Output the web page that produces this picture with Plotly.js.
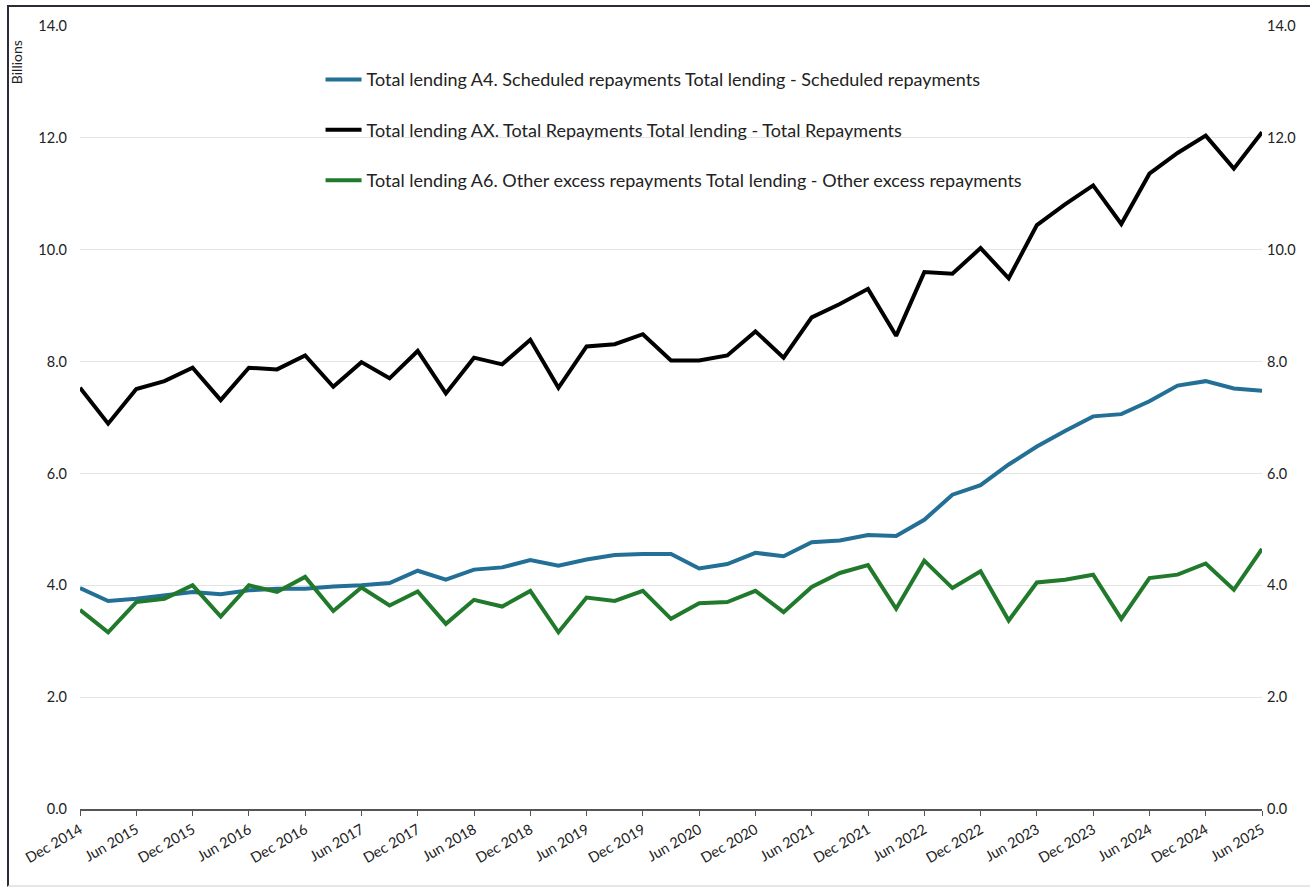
<!DOCTYPE html>
<html>
<head>
<meta charset="utf-8">
<script src="https://cdn.plot.ly/plotly-3.0.1.min.js"></script>
<style>
  html, body { margin: 0; padding: 0; background: #fff; }
  #frame { position: absolute; left: 7px; top: 5px; width: 1320px; height: 878px;
           border-left: 2px solid #2b2b3a; border-top: 2px solid #2b2b3a; border-bottom: 2px solid #e6e6e6; }
  #chart { position: absolute; left: 0; top: 0; width: 1310px; height: 889px; }
</style>
</head>
<body>
<div id="frame"></div>
<div id="chart"></div>
<script>
const quarters = [
  "Dec 2014","Mar 2015","Jun 2015","Sep 2015","Dec 2015","Mar 2016","Jun 2016","Sep 2016",
  "Dec 2016","Mar 2017","Jun 2017","Sep 2017","Dec 2017","Mar 2018","Jun 2018","Sep 2018",
  "Dec 2018","Mar 2019","Jun 2019","Sep 2019","Dec 2019","Mar 2020","Jun 2020","Sep 2020",
  "Dec 2020","Mar 2021","Jun 2021","Sep 2021","Dec 2021","Mar 2022","Jun 2022","Sep 2022",
  "Dec 2022","Mar 2023","Jun 2023","Sep 2023","Dec 2023","Mar 2024","Jun 2024","Sep 2024",
  "Dec 2024","Mar 2025","Jun 2025"
];
const tickLabels = [
  "Dec 2014","Jun 2015","Dec 2015","Jun 2016","Dec 2016","Jun 2017","Dec 2017","Jun 2018",
  "Dec 2018","Jun 2019","Dec 2019","Jun 2020","Dec 2020","Jun 2021","Dec 2021","Jun 2022",
  "Dec 2022","Jun 2023","Dec 2023","Jun 2024","Dec 2024","Jun 2025"
];
const scheduledRepayments = [
  3.95,3.72,3.76,3.82,3.88,3.84,3.91,3.94,3.94,3.98,4.00,4.04,4.26,4.10,4.28,4.32,
  4.45,4.35,4.46,4.54,4.56,4.56,4.30,4.38,4.58,4.52,4.77,4.80,4.90,4.88,5.17,5.62,
  5.79,6.16,6.48,6.76,7.02,7.06,7.29,7.57,7.65,7.52,7.48
];
const totalRepayments = [
  7.53,6.89,7.51,7.65,7.89,7.31,7.89,7.86,8.11,7.55,7.99,7.70,8.19,7.43,8.07,7.95,
  8.39,7.53,8.27,8.31,8.49,8.02,8.02,8.11,8.54,8.07,8.79,9.03,9.30,8.46,9.60,9.57,
  10.03,9.49,10.44,10.81,11.15,10.46,11.36,11.73,12.04,11.45,12.10
];
const otherExcessRepayments = [
  3.56,3.16,3.70,3.76,4.00,3.44,4.00,3.88,4.15,3.54,3.96,3.64,3.89,3.31,3.74,3.62,
  3.90,3.16,3.78,3.72,3.90,3.40,3.68,3.70,3.90,3.52,3.97,4.22,4.36,3.58,4.44,3.95,
  4.25,3.37,4.05,4.10,4.19,3.40,4.13,4.19,4.39,3.92,4.65
];
const names = [
  "Total lending A4. Scheduled repayments Total lending - Scheduled repayments",
  "Total lending AX. Total Repayments Total lending - Total Repayments",
  "Total lending A6. Other excess repayments Total lending - Other excess repayments"
];
const colors = ["#236f96", "#000000", "#217a2c"];
const series = [scheduledRepayments, totalRepayments, otherExcessRepayments];

const traces = series.map((s, k) => ({
  type: "scatter", mode: "lines", x: quarters, y: s, name: names[k],
  legendgroup: "g" + k,
  line: { color: colors[k], width: 4 },
  hoverinfo: "x+y"
}));
// invisible trace so that the right-hand axis is drawn
traces.push({
  type: "scatter", mode: "lines", x: quarters, y: totalRepayments, yaxis: "y2",
  showlegend: false, hoverinfo: "skip", opacity: 0, line: { width: 1 }
});

const tickFont = { family: "Lato, 'Open Sans', sans-serif", size: 14.5, color: "#222" };

const layout = {
  width: 1310, height: 889,
  margin: { l: 80, r: 48, t: 26, b: 80 },
  paper_bgcolor: "rgba(0,0,0,0)", plot_bgcolor: "rgba(0,0,0,0)",
  font: { family: "Lato, 'Open Sans', sans-serif", color: "#222" },
  showlegend: true,
  legend: {
    x: 0.2035, y: 0.955, xanchor: "left", yanchor: "top",
    font: { family: "Lato, sans-serif", size: 18, color: "#222" },
    itemwidth: 36,
    tracegroupgap: 24, bgcolor: "rgba(0,0,0,0)", traceorder: "grouped"
  },
  xaxis: {
    type: "category", range: [0, 42],
    tickmode: "array", tickvals: tickLabels, ticktext: tickLabels,
    tickangle: -30, tickfont: tickFont,
    ticks: "outside", ticklen: 5, tickcolor: "#555", tickwidth: 1,
    showline: true, linecolor: "#555", linewidth: 1.5,
    showgrid: false, zeroline: false
  },
  yaxis: {
    range: [0, 14], tickvals: [0, 2, 4, 6, 8, 10, 12, 14], tickformat: ".1f",
    tickfont: tickFont, ticks: "", ticklabelstandoff: 12,
    showgrid: true, gridcolor: "#e3e3e3", gridwidth: 1.2,
    zeroline: false, showline: false
  },
  yaxis2: {
    overlaying: "y", side: "right", range: [0, 14],
    tickvals: [0, 2, 4, 6, 8, 10, 12, 14], tickformat: ".1f",
    tickfont: tickFont, ticks: "", ticklabelstandoff: 4,
    showgrid: false, zeroline: false, showline: false
  },
  annotations: [{
    text: "Billions", xref: "paper", yref: "paper",
    x: -0.054, y: 0.954, xanchor: "center", yanchor: "middle",
    textangle: -90, showarrow: false,
    font: { family: "Lato, sans-serif", size: 14, color: "#222" }
  }]
};

Plotly.newPlot("chart", traces, layout, { displayModeBar: false, responsive: false });
</script>
</body>
</html>
